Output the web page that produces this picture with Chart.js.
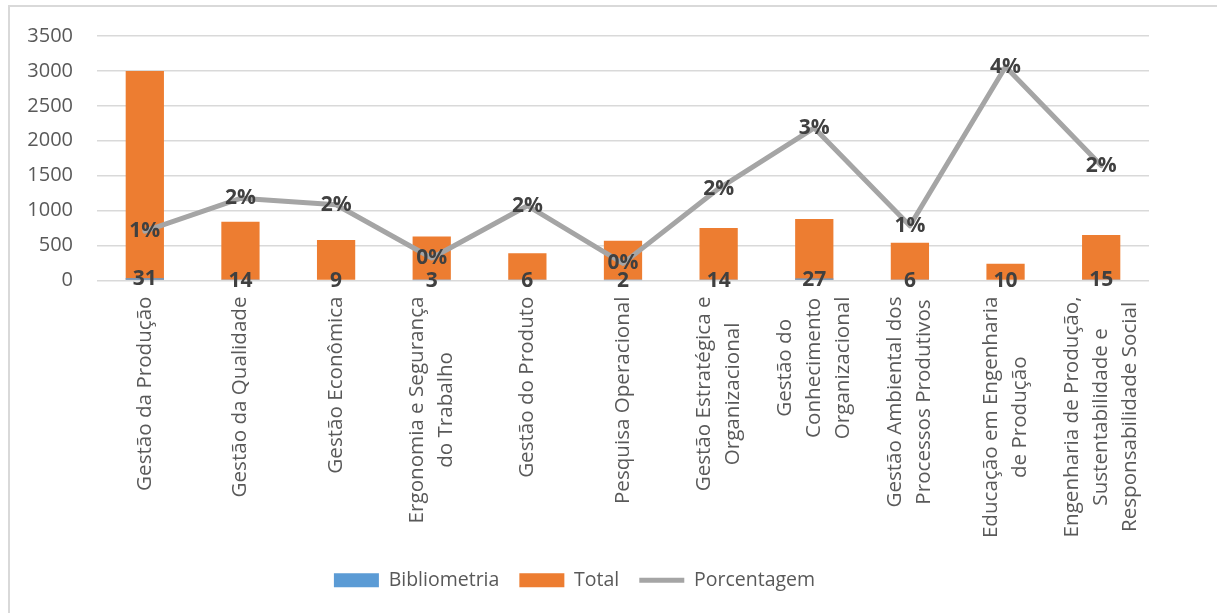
<!DOCTYPE html>
<html>
<head>
<meta charset="utf-8">
<script src="https://cdn.jsdelivr.net/npm/chart.js@4/dist/chart.umd.min.js"></script>
<style>
  html, body { margin: 0; padding: 0; background: #ffffff; }
  #wrap { position: relative; width: 1217px; height: 613px; overflow: hidden; }
  #frame { position: absolute; left: 8px; top: 5px; width: 1400px; height: 800px;
           border-left: 2px solid #d9d9d9; border-top: 2px solid #d9d9d9; box-sizing: border-box; }
  #c { position: absolute; left: 0; top: 0; }
</style>
</head>
<body>
<div id="wrap">
  <div id="frame"></div>
  <canvas id="c" width="1217" height="613"></canvas>
</div>
<script>
const categories = [
  ["Gestão da Produção"],
  ["Gestão da Qualidade"],
  ["Gestão Econômica"],
  ["Ergonomia e Segurança", "do Trabalho"],
  ["Gestão do Produto"],
  ["Pesquisa Operacional"],
  ["Gestão Estratégica e", "Organizacional"],
  ["Gestão do", "Conhecimento", "Organizacional"],
  ["Gestão Ambiental dos", "Processos Produtivos"],
  ["Educação em Engenharia", "de Produção"],
  ["Engenharia de Produção,", "Sustentabilidade e", "Responsabilidade Social"]
];
const bibliometria = [31, 14, 9, 3, 6, 2, 14, 27, 6, 10, 15];
const total = [3000, 840, 580, 630, 390, 570, 750, 880, 540, 240, 650];
const porcentagem = [0.0101, 0.0168, 0.0155, 0.0046, 0.0153, 0.0035, 0.0188, 0.0312, 0.0112, 0.0437, 0.0235];
const yTicks = [0, 500, 1000, 1500, 2000, 2500, 3000, 3500];

const FONT = '"Open Sans", "DejaVu Sans", sans-serif';

const labelPlugin = {
  id: 'customLabels',
  afterDatasetsDraw(chart) {
    const ctx = chart.ctx;
    const xs = chart.scales.x, ys = chart.scales.y, y1 = chart.scales.y1;
    ctx.save();
    ctx.font = 'bold 21px ' + FONT;
    ctx.fillStyle = '#404040';
    ctx.textAlign = 'center';
    ctx.textBaseline = 'middle';
    bibliometria.forEach((v, i) => {
      ctx.fillText(String(v), xs.getPixelForValue(i), ys.getPixelForValue(v) + 1);
    });
    porcentagem.forEach((v, i) => {
      ctx.fillText(Math.round(v * 100) + '%', xs.getPixelForValue(i), y1.getPixelForValue(v));
    });
    ctx.restore();
  },
  afterDraw(chart) {
    const ctx = chart.ctx;
    const xs = chart.scales.x;
    ctx.save();
    ctx.font = '20.6px ' + FONT;
    ctx.fillStyle = '#595959';
    ctx.textAlign = 'center';
    ctx.textBaseline = 'middle';
    const lh = 29;
    categories.forEach((lines, i) => {
      const cx = xs.getPixelForTick(i);
      const W = Math.max(...lines.map(l => ctx.measureText(l).width));
      const cy = xs.top + 16 + W / 2;
      const n = lines.length;
      lines.forEach((l, j) => {
        ctx.save();
        ctx.translate(cx + (j - (n - 1) / 2) * lh, cy);
        ctx.rotate(-Math.PI / 2);
        ctx.fillText(l, 0, 0);
        ctx.restore();
      });
    });
    ctx.restore();
  }
};

new Chart(document.getElementById('c'), {
  data: {
    labels: categories.map(c => c.join(' ')),
    datasets: [
      {
        type: 'bar', label: 'Bibliometria', data: bibliometria,
        backgroundColor: '#5b9bd5', grouped: false, order: 1,
        barPercentage: 0.4, categoryPercentage: 1.0, pointStyle: 'rect', yAxisID: 'y'
      },
      {
        type: 'bar', label: 'Total', data: total,
        backgroundColor: '#ed7d31', grouped: false, order: 2,
        barPercentage: 0.4, categoryPercentage: 1.0, pointStyle: 'rect', yAxisID: 'y'
      },
      {
        type: 'line', label: 'Porcentagem', data: porcentagem,
        borderColor: '#a5a5a5', backgroundColor: '#a5a5a5', borderWidth: 5,
        pointRadius: 0, pointHoverRadius: 0, tension: 0, fill: false,
        borderJoinStyle: 'round', borderCapStyle: 'round',
        pointStyle: 'line', order: 0, yAxisID: 'y1'
      }
    ]
  },
  options: {
    responsive: false,
    animation: false,
    events: [],
    layout: { padding: { left: 0, right: 68, top: 35, bottom: 13 } },
    scales: {
      x: {
        grid: { display: false },
        border: { display: false },
        ticks: { display: false },
        afterFit(scale) { scale.height = 270; }
      },
      y: {
        min: 0, max: 3500,
        afterBuildTicks(scale) { scale.ticks = yTicks.map(v => ({ value: v })); },
        grid: { color: '#d9d9d9', lineWidth: 1.5, drawTicks: false },
        border: { display: false },
        ticks: { padding: 24, color: '#595959', font: { family: FONT, size: 20 },
                 callback: (v) => String(v) },
        afterFit(scale) { scale.width = 97; }
      },
      y1: {
        display: false, min: 0, max: 0.05, position: 'right',
        grid: { display: false }
      }
    },
    plugins: {
      tooltip: { enabled: false },
      legend: {
        position: 'bottom',
        labels: {
          usePointStyle: true, pointStyleWidth: 45, boxHeight: 14, padding: 20,
          color: '#595959', font: { family: FONT, size: 19.5 },
          sort: (a, b) => a.datasetIndex - b.datasetIndex
        }
      }
    }
  },
  plugins: [labelPlugin]
});
</script>
</body>
</html>
